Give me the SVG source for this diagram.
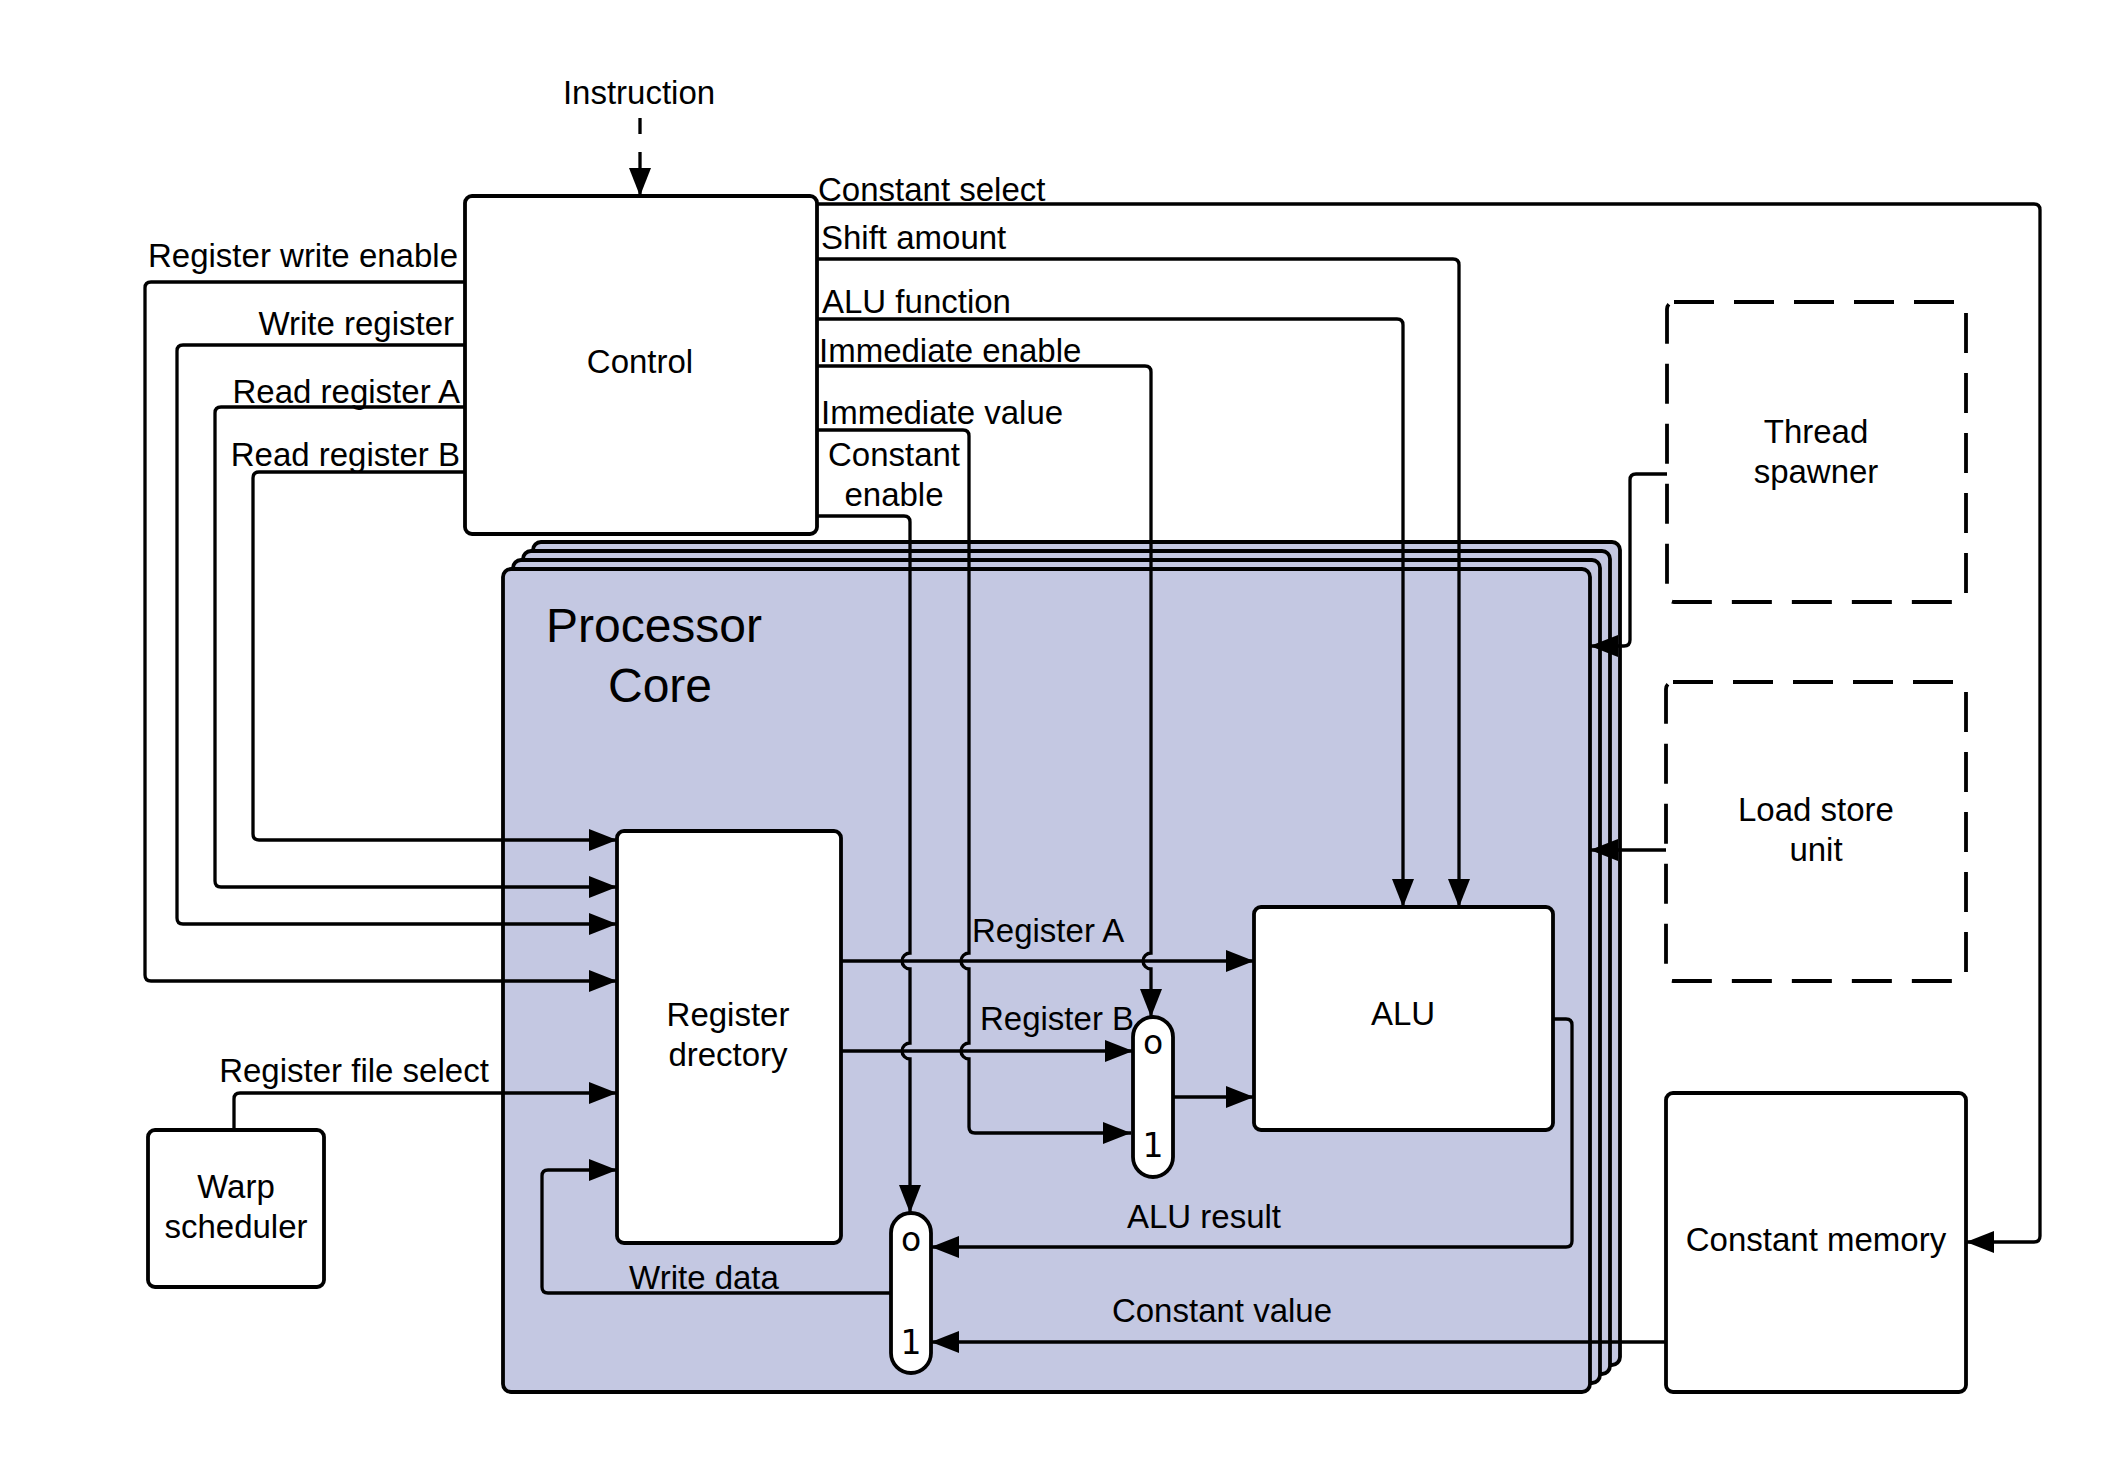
<svg xmlns="http://www.w3.org/2000/svg" width="2117" height="1468" viewBox="0 0 2117 1468">
<defs>
<marker id="arr" markerUnits="userSpaceOnUse" markerWidth="30" markerHeight="24" refX="28" refY="11" orient="auto">
<path d="M0,0 L28,11 L0,22 z" fill="#000"/>
</marker>
<style>
text{font-family:"Liberation Sans",Arial,sans-serif;font-size:33px;fill:#000}
.m{text-anchor:middle}
.e{text-anchor:end}
.box{fill:#fff;stroke:#000;stroke-width:3.8}
.dash{fill:#fff;stroke:#000;stroke-width:3.8;stroke-dasharray:40 20}
.core{fill:#c4c8e2;stroke:#000;stroke-width:3.8}
.c{fill:none;stroke:#000;stroke-width:3.3}
.a{marker-end:url(#arr)}
.mux{fill:#fff;stroke:#000;stroke-width:3.8}
.d{font-family:"DejaVu Sans",sans-serif;font-size:33px}
</style>
</defs>
<rect width="2117" height="1468" fill="#fff"/>

<g id="processor-core">
<rect class="core" x="533" y="542" width="1087" height="823" rx="8"/>
<rect class="core" x="523" y="551" width="1087" height="823" rx="8"/>
<rect class="core" x="513" y="560" width="1087" height="823" rx="8"/>
<rect class="core" x="503" y="569" width="1087" height="823" rx="8"/>
<text class="m" x="654" y="642" style="font-size:48px">Processor</text>
<text class="m" x="660" y="702" style="font-size:48px">Core</text>
</g>

<g id="control">
<rect class="box" x="465" y="196" width="352" height="338" rx="7"/>
<text class="m" x="640" y="373">Control</text>
</g>

<g id="register-directory">
<rect class="box" x="617" y="831" width="224" height="412" rx="7"/>
<text class="m" x="728" y="1026">Register</text>
<text class="m" x="728" y="1066">drectory</text>
</g>

<g id="alu">
<rect class="box" x="1254" y="907" width="299" height="223" rx="7"/>
<text class="m" x="1403" y="1025">ALU</text>
</g>

<g id="mux-alu">
<rect class="mux" x="1133" y="1017" width="40" height="160" rx="20"/>
<text class="m d" x="1153" y="1054">o</text>
<text class="m d" x="1153" y="1157">1</text>
</g>

<g id="mux-write">
<rect class="mux" x="891" y="1213" width="40" height="160" rx="20"/>
<text class="m d" x="911" y="1251">o</text>
<text class="m d" x="911" y="1354">1</text>
</g>

<g id="warp-scheduler">
<rect class="box" x="148" y="1130" width="176" height="157" rx="7"/>
<text class="m" x="236" y="1198">Warp</text>
<text class="m" x="236" y="1238">scheduler</text>
</g>

<g id="thread-spawner">
<rect class="dash" x="1667" y="302" width="299" height="300" rx="7"/>
<text class="m" x="1816" y="443">Thread</text>
<text class="m" x="1816" y="483">spawner</text>
</g>

<g id="load-store-unit">
<rect class="dash" x="1666" y="682" width="300" height="299" rx="7"/>
<text class="m" x="1816" y="821">Load store</text>
<text class="m" x="1816" y="861">unit</text>
</g>

<g id="constant-memory">
<rect class="box" x="1666" y="1093" width="300" height="299" rx="7"/>
<text class="m" x="1816" y="1251">Constant memory</text>
</g>

<g id="connectors">
<path class="c a" d="M640,118 V196" stroke-dasharray="16 18"/>
<path class="c a" d="M465,282 H151 Q145,282 145,288 V975 Q145,981 151,981 H617"/>
<path class="c a" d="M465,345 H183 Q177,345 177,351 V918 Q177,924 183,924 H617"/>
<path class="c a" d="M465,407 H221 Q215,407 215,413 V881 Q215,887 221,887 H617"/>
<path class="c a" d="M465,472 H259 Q253,472 253,478 V834 Q253,840 259,840 H617"/>
<path class="c a" d="M234,1130 V1099 Q234,1093 240,1093 H617"/>
<path class="c a" d="M891,1293 H548 Q542,1293 542,1287 V1176 Q542,1170 548,1170 H617"/>
<path class="c a" d="M841,961 H1254"/>
<path class="c a" d="M841,1051 H1133"/>
<path class="c a" d="M817,516 H904 Q910,516 910,522 V953 A8,8 0 0 0 910,969 V1043 A8,8 0 0 0 910,1059 V1213"/>
<path class="c a" d="M817,430 H963 Q969,430 969,436 V953 A8,8 0 0 0 969,969 V1043 A8,8 0 0 0 969,1059 V1127 Q969,1133 975,1133 H1131"/>
<path class="c a" d="M817,366 H1145 Q1151,366 1151,372 V953 A8,8 0 0 0 1151,969 V1017"/>
<path class="c a" d="M817,319 H1397 Q1403,319 1403,325 V907"/>
<path class="c a" d="M817,259 H1453 Q1459,259 1459,265 V907"/>
<path class="c a" d="M817,204 H2034 Q2040,204 2040,210 V1236 Q2040,1242 2034,1242 H1966"/>
<path class="c a" d="M1173,1097 H1254"/>
<path class="c a" d="M1553,1019 H1566 Q1572,1019 1572,1025 V1241 Q1572,1247 1566,1247 H931"/>
<path class="c a" d="M1666,1342 H931"/>
<path class="c a" d="M1667,474 H1636 Q1630,474 1630,480 V640 Q1630,646 1624,646 H1590"/>
<path class="c a" d="M1666,850 H1590"/>
</g>

<g id="labels">
<text class="m" x="639" y="104">Instruction</text>
<text class="e" x="458" y="267">Register write enable</text>
<text class="e" x="454" y="335">Write register</text>
<text class="e" x="460" y="403">Read register A</text>
<text class="e" x="460" y="466">Read register B</text>
<text x="818" y="201">Constant select</text>
<text x="821" y="249">Shift amount</text>
<text x="822" y="313">ALU function</text>
<text x="819" y="362">Immediate enable</text>
<text x="821" y="424">Immediate value</text>
<text class="m" x="894" y="466">Constant</text>
<text class="m" x="894" y="506">enable</text>
<text x="972" y="942">Register A</text>
<text x="980" y="1030">Register B</text>
<text class="m" x="354" y="1082">Register file select</text>
<text class="m" x="704" y="1289">Write data</text>
<text class="m" x="1204" y="1228">ALU result</text>
<text class="m" x="1222" y="1322">Constant value</text>
</g>
</svg>
